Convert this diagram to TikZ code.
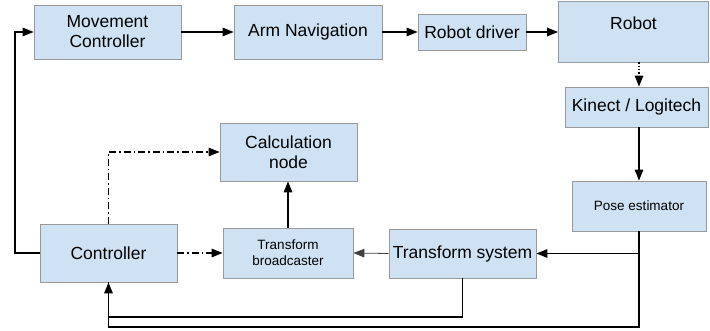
\documentclass[tikz,border=0pt]{standalone}
\usepackage{fontspec}
\setmainfont{Liberation Sans}
\usetikzlibrary{arrows.meta}
\definecolor{boxfill}{HTML}{CFE2F3}
\definecolor{boxline}{HTML}{999999}
\tikzset{
  box/.style={draw=boxline, line width=0.8pt, fill=boxfill, inner sep=0pt, align=center,
    font=\fontsize{17.5}{20}\selectfont},
  smallbox/.style={box, font=\fontsize{13.5}{16}\selectfont},
  txt/.style={inner sep=0pt, font=\fontsize{17.5}{20}\selectfont},
  conn/.style={line width=1.3pt, -{Triangle[length=11pt,width=8.5pt]}},
  plain/.style={line width=1.3pt},
  dd/.style={conn, dash pattern=on 7pt off 3pt on 1.5pt off 3pt},
}
\begin{document}
\begin{tikzpicture}[x=1pt,y=-1pt]
\useasboundingbox (0,0) rectangle (710,331);
\node[box, minimum width=147pt, minimum height=54pt] (mc) at (107.5,32) {Movement\\Controller};
\node[box, minimum width=148pt, minimum height=54pt] (an) at (308,32) {Arm Navigation};
\node[box, minimum width=108pt, minimum height=36pt] (rd) at (472,32) {Robot driver};
\node[box, minimum width=150pt, minimum height=61pt] (rb) at (633.5,31.5) {};
\node[txt] (rbt) at (633.5,23) {Robot};
\node[box, minimum width=143pt, minimum height=40pt] (kl) at (636.5,107) {Kinect / Logitech};
\node[smallbox, minimum width=134pt, minimum height=50pt] (pe) at (639,206) {Pose estimator};
\node[box, minimum width=147pt, minimum height=49pt] (ts) at (462.5,253.5) {Transform system};
\node[box, minimum width=137pt, minimum height=58pt] (cn) at (288.5,152) {Calculation\\node};
\node[box, minimum width=137pt, minimum height=58pt] (ct) at (108.5,253) {Controller};
\node[smallbox, minimum width=130pt, minimum height=50pt] (tb) at (288,253) {Transform\\broadcaster};
\coordinate (cx) at (639,0);
\coordinate (lx) at (15,253);
\coordinate (by1) at (0,317);
\coordinate (by2) at (0,327);

\draw[conn] (mc.east) -- (an.west);
\draw[conn] (an.east) -- (rd.west);
\draw[conn] (rd.east) -- (rd.east -| rb.west);
\draw[conn, dotted] (rb.south -| cx) -- (kl.north -| cx);
\draw[conn] (kl.south -| cx) -- (pe.north);
\draw[conn] (pe.south) |- (ts.east);
\draw[plain] (pe.south) -- (pe.south |- by2) -| (ct.south);
\draw[conn] (ts.south) -- (ts.south |- by1) -| (ct.south);
\draw[conn, line width=0.8pt, draw=black!75] (ts.west) -- (tb.east);
\draw[dd] (ct.east) -- (tb.west);
\draw[dd] (ct.north) |- (cn.west);
\draw[conn] (tb.north) -- (tb.north |- cn.south);
\draw[conn] (ct.west) -- (lx) |- (mc.west);
\end{tikzpicture}
\end{document}
